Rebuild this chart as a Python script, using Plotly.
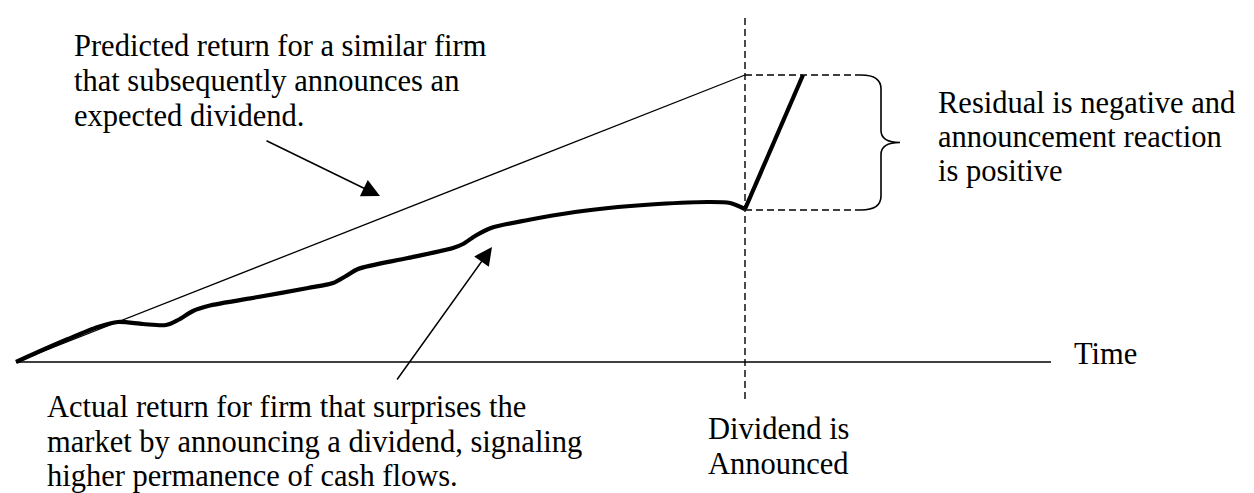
import plotly.graph_objects as go

# Coordenadas del esquema (unidades = pixeles de la lamina, y hacia abajo)
W, H = 1254, 493
origin = (8, 354)
time_axis_end = 1043
event_x = 737
event_top, event_bottom = 10, 392

# retorno predicho (linea fina)
predicted_x = [8, 737]
predicted_y = [354, 67]

# retorno real (linea gruesa)
actual_x = [8, 30, 60, 90, 110, 135, 158, 170, 185, 200, 250, 300, 325, 338, 350,
            400, 445, 455, 467, 483, 520, 567, 610, 650, 700, 722, 737]
actual_y = [354, 344, 331, 319, 314, 316, 317, 312, 303, 298, 289, 280, 275, 268, 261,
            250, 240, 236, 228, 220, 212, 204, 199, 196, 194, 195, 201]

# reaccion al anuncio
jump_x = [737, 795]
jump_y = [201, 67]

# niveles del residuo
residual_top = 67
residual_bottom = 202
residual_dash_end = 853

FONT = dict(family="Liberation Serif, Times New Roman, serif", size=30.5, color="black")

# (texto, x izquierda, linea base)
text_lines = [
    ("Predicted return for a similar firm", 65, 48),
    ("that subsequently announces an", 65, 83),
    ("expected dividend.", 65, 118),
    ("Residual is negative and", 929, 105),
    ("announcement reaction", 929, 139),
    ("is positive", 929, 173),
    ("Time", 1065, 356),
    ("Actual return for firm that surprises the", 38, 409),
    ("market by announcing a dividend, signaling", 38, 444),
    ("higher permanence of cash flows.", 38, 478),
    ("Dividend is", 699, 431),
    ("Announced", 699, 466),
]

# flechas: (punta x, punta y, cola x, cola y)
arrows = [
    (372, 188, 257, 132),
    (484, 239, 388, 373),
]

fig = go.Figure()

# eje del tiempo
fig.add_trace(go.Scatter(
    x=[origin[0], time_axis_end], y=[origin[1], origin[1]],
    mode="lines", line=dict(color="black", width=1.6), hoverinfo="skip",
))

# linea vertical del anuncio
fig.add_trace(go.Scatter(
    x=[event_x, event_x], y=[event_top, event_bottom],
    mode="lines", line=dict(color="black", width=1.4, dash="7px,4px"), hoverinfo="skip",
))

# lineas horizontales del residuo
for lvl in (residual_top, residual_bottom):
    fig.add_trace(go.Scatter(
        x=[event_x, residual_dash_end], y=[lvl, lvl],
        mode="lines", line=dict(color="black", width=1.4, dash="7px,4px"), hoverinfo="skip",
    ))

# retorno predicho
fig.add_trace(go.Scatter(
    x=predicted_x, y=predicted_y,
    mode="lines", line=dict(color="black", width=1.3), hoverinfo="skip",
))

# retorno real
fig.add_trace(go.Scatter(
    x=actual_x, y=actual_y,
    mode="lines", line=dict(color="black", width=4.2, shape="spline", smoothing=0.8),
    hoverinfo="skip",
))

fig.add_trace(go.Scatter(
    x=jump_x, y=jump_y,
    mode="lines", line=dict(color="black", width=4.2), hoverinfo="skip",
))

# llave
mid = (residual_top + residual_bottom) / 2
bx = 873
brace = (f"M {residual_dash_end},{residual_top} Q {bx},{residual_top} {bx},{residual_top + 14} "
         f"L {bx},{mid - 12} Q {bx},{mid} {bx + 19},{mid} "
         f"Q {bx},{mid} {bx},{mid + 12} "
         f"L {bx},{residual_bottom - 14} Q {bx},{residual_bottom} {residual_dash_end},{residual_bottom}")
fig.add_shape(type="path", path=brace, xref="x", yref="y",
              line=dict(color="black", width=1.6))

for txt, x0, base in text_lines:
    fig.add_annotation(
        x=x0, y=base - 10.5, text=txt, showarrow=False,
        xanchor="left", yanchor="middle", borderpad=0, font=FONT,
    )

for hx, hy, tx, ty in arrows:
    fig.add_annotation(
        x=hx, y=hy, ax=tx, ay=ty, xref="x", yref="y", axref="x", ayref="y",
        text="", showarrow=True, arrowhead=2, arrowsize=2.4, arrowwidth=1.5,
        arrowcolor="black",
    )

fig.update_layout(
    width=W, height=H,
    margin=dict(l=0, r=0, t=0, b=0),
    paper_bgcolor="white", plot_bgcolor="white",
    showlegend=False,
    xaxis=dict(range=[0, W], visible=False, fixedrange=True),
    yaxis=dict(range=[H, 0], visible=False, fixedrange=True),
)

fig.write_html("out.html")
